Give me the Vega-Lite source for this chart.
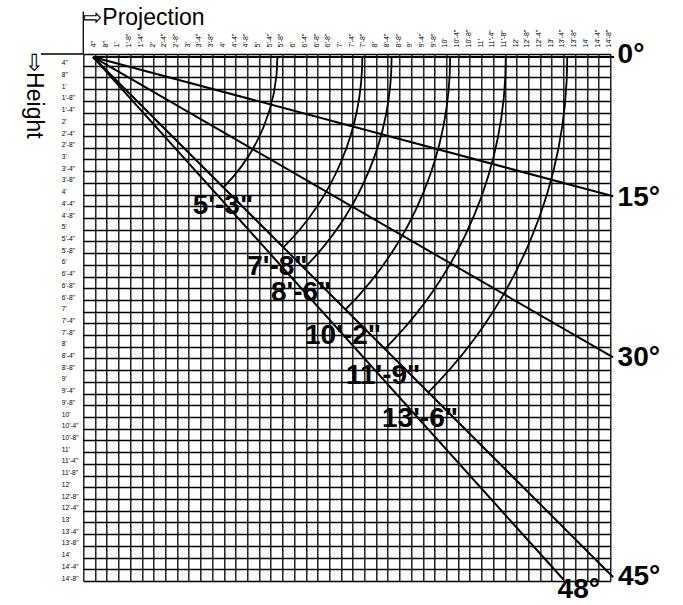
{
  "$schema": "https://vega.github.io/schema/vega-lite/v6.json",
  "width": 527,
  "height": 527,
  "autosize": {"type": "none"},
  "padding": {"left": 83.3, "top": 54, "right": 72.7, "bottom": 24},
  "background": "white",
  "config": {"view": {"stroke": null}, "font": "Liberation Sans"},
  "params": [
    {"name": "lbl", "value": ["4\"","8\"","1'","1'-8\"","1'-4\"","2'","2'-4\"","2'-8\"","3'","3'-4\"","3'-8\"","4'","4'-4\"","4'-8\"","5'","5'-4\"","5'-8\"","6'","6'-4\"","6'-8\"","6'-8\"","7'","7'-4\"","7'-8\"","8'","8'-4\"","8'-8\"","9'","9'-4\"","9'-8\"","10'","10'-4\"","10'-8\"","11'","11'-4\"","11'-8\"","12'","12'-8\"","12'-4\"","13'","13'-4\"","13'-8\"","14'","14'-4\"","14'-8\""]}
  ],
  "datasets": {
    "rays": [
      {"deg": 0, "x0": 3.3, "y0": 1, "x1": 181.3, "y1": 1},
      {"deg": 15, "x0": 3.3, "y0": 1, "x1": 181, "y1": 48.6},
      {"deg": 30, "x0": 3.3, "y0": 1, "x1": 181, "y1": 103.6},
      {"deg": 45, "x0": 3.3, "y0": 1, "x1": 181, "y1": 178.7},
      {"deg": 48, "x0": 3.3, "y0": 1, "x1": 164, "y1": 179.5}
    ],
    "arcs": [
      {"r": 63, "t": "5'-3\"", "lx": 47.7, "ly": 51.9},
      {"r": 92, "t": "7'-8\"", "lx": 66.3, "ly": 72.9},
      {"r": 102, "t": "8'-6\"", "lx": 74.4, "ly": 81.6},
      {"r": 122, "t": "10'-2\"", "lx": 88.7, "ly": 96.3},
      {"r": 141, "t": "11'-9\"", "lx": 102.4, "ly": 110.0},
      {"r": 162, "t": "13'-6\"", "lx": 115.0, "ly": 124.7}
    ],
    "angles": [
      {"t": "0°", "x": 182.5, "y": 0.4},
      {"t": "15°", "x": 182.5, "y": 49.2},
      {"t": "30°", "x": 182.5, "y": 103.8},
      {"t": "45°", "x": 182.6, "y": 178.8},
      {"t": "48°", "x": 162.0, "y": 183.0}
    ],
    "frame": [
      {"x0": -14.5, "y0": 0, "x1": 0, "y1": 0},
      {"x0": 0, "y0": -14.5, "x1": 0, "y1": 0}
    ]
  },
  "resolve": {"axis": {"x": "independent", "y": "independent"}},
  "layer": [
    {
      "data": {"name": "rays"},
      "mark": {"type": "rule", "strokeWidth": 2, "color": "black"},
      "encoding": {
        "x": {"field": "x0", "type": "quantitative",
          "scale": {"domain": [0, 180], "nice": false, "zero": false},
          "axis": {"orient": "top", "values": [0,4,8,12,16,20,24,28,32,36,40,44,48,52,56,60,64,68,72,76,80,84,88,92,96,100,104,108,112,116,120,124,128,132,136,140,144,148,152,156,160,164,168,172,176,180],
            "grid": true, "gridColor": "#000", "gridWidth": 1.3, "gridOpacity": 1,
            "labels": false, "ticks": false, "domain": false, "title": null}},
        "y": {"field": "y0", "type": "quantitative",
          "scale": {"domain": [0, 180], "nice": false, "zero": false, "reverse": true},
          "axis": {"orient": "left", "values": [0,4,8,12,16,20,24,28,32,36,40,44,48,52,56,60,64,68,72,76,80,84,88,92,96,100,104,108,112,116,120,124,128,132,136,140,144,148,152,156,160,164,168,172,176,180],
            "grid": true, "gridColor": "#000", "gridWidth": 1.3, "gridOpacity": 1,
            "labels": false, "ticks": false, "domain": false, "title": null}},
        "x2": {"field": "x1"},
        "y2": {"field": "y1"}
      }
    },
    {
      "data": {"name": "frame"},
      "mark": {"type": "rule", "strokeWidth": 1.3, "color": "black"},
      "encoding": {
        "x": {"field": "x0", "type": "quantitative", "axis": null},
        "y": {"field": "y0", "type": "quantitative", "axis": null},
        "x2": {"field": "x1"},
        "y2": {"field": "y1"}
      }
    },
    {
      "data": {"name": "arcs"},
      "mark": {"type": "arc", "theta": 1.5708, "theta2": 2.3562, "fillOpacity": 0, "stroke": "black", "strokeWidth": 1.8},
      "encoding": {
        "x": {"datum": 3.3, "type": "quantitative", "axis": null},
        "y": {"datum": 1, "type": "quantitative", "axis": null},
        "radius": {"field": "r", "type": "quantitative", "scale": {"type": "linear", "domain": [0, 180], "range": [0, 527], "zero": true}, "legend": null},
        "radius2": {"field": "r"}
      }
    },
    {
      "data": {"name": "arcs"},
      "mark": {"type": "text", "fontSize": 28, "fontWeight": "bold", "align": "center", "baseline": "middle", "color": "black"},
      "encoding": {
        "x": {"field": "lx", "type": "quantitative",
          "axis": {"orient": "top", "values": [3.5,7.5,11.5,15.5,19.5,23.5,27.5,31.5,35.5,39.5,43.5,47.5,51.5,55.5,59.5,63.5,67.5,71.5,75.5,79.5,83.5,87.5,91.5,95.5,99.5,103.5,107.5,111.5,115.5,119.5,123.5,127.5,131.5,135.5,139.5,143.5,147.5,151.5,155.5,159.5,163.5,167.5,171.5,175.5,179.5],
            "labelExpr": "lbl[round((datum.value-3.5)/4)]",
            "grid": false, "ticks": false, "tickSize": 0, "domain": false, "title": null,
            "labelAngle": 270, "labelAlign": "left", "labelBaseline": "middle", "labelPadding": 7,
            "labelFontSize": 7, "labelColor": "#000", "labelOverlap": false, "labelFlush": false, "labelBound": false}},
        "y": {"field": "ly", "type": "quantitative",
          "axis": {"orient": "left", "values": [3,7,11,15,19,23,27,31,35,39,43,47,51,55,59,63,67,71,75,79,83,87,91,95,99,103,107,111,115,119,123,127,131,135,139,143,147,151,155,159,163,167,171,175,179],
            "labelExpr": "lbl[round((datum.value-3)/4)]",
            "grid": false, "ticks": false, "tickSize": 0, "domain": false, "title": null,
            "labelAlign": "left", "labelBaseline": "middle", "labelPadding": 22,
            "labelFontSize": 6.6, "labelColor": "#000", "labelOverlap": false, "labelFlush": false, "labelBound": false}},
        "text": {"field": "t"}
      }
    },
    {
      "data": {"name": "angles"},
      "mark": {"type": "text", "fontSize": 28, "fontWeight": "bold", "align": "left", "baseline": "middle", "color": "black"},
      "encoding": {
        "x": {"field": "x", "type": "quantitative", "axis": null},
        "y": {"field": "y", "type": "quantitative", "axis": null},
        "text": {"field": "t"}
      }
    },
    {
      "data": {"values": [{"t": "⇨Projection"}]},
      "mark": {"type": "text", "fontSize": 23, "align": "left", "baseline": "alphabetic", "color": "black"},
      "encoding": {
        "x": {"datum": 0, "type": "quantitative", "axis": null},
        "y": {"datum": -9.9, "type": "quantitative", "axis": null},
        "text": {"field": "t"}
      }
    },
    {
      "data": {"values": [{"t": "⇨Height"}]},
      "mark": {"type": "text", "fontSize": 23, "align": "left", "baseline": "middle", "angle": 90, "color": "black"},
      "encoding": {
        "x": {"datum": -16.7, "type": "quantitative", "axis": null},
        "y": {"datum": -0.3, "type": "quantitative", "axis": null},
        "text": {"field": "t"}
      }
    }
  ]
}
